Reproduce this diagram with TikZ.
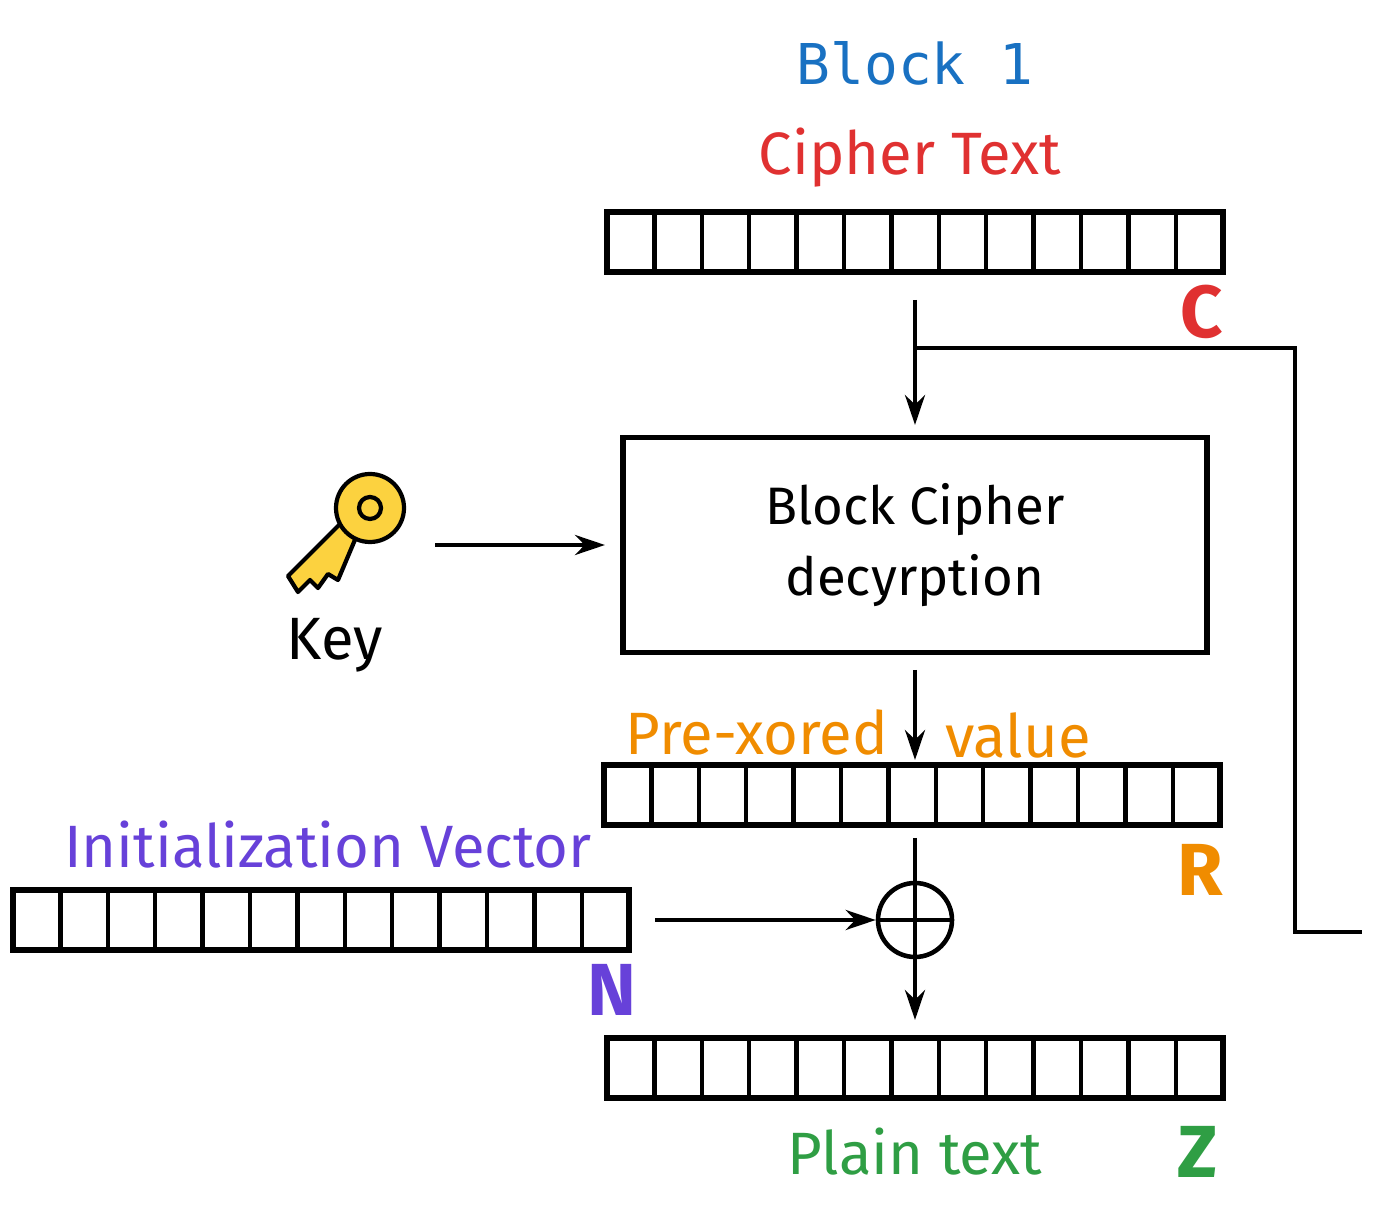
\documentclass[tikz,border=0pt]{standalone}
\usepackage{fontspec}
\setmainfont{Fira Sans}
\newfontfamily\monofont{DejaVu Sans Mono}
\usetikzlibrary{arrows.meta}
\definecolor{cblue}{HTML}{1971C2}
\definecolor{cred}{HTML}{E03131}
\definecolor{corange}{HTML}{F08C00}
\definecolor{cpurple}{HTML}{6741D9}
\definecolor{cgreen}{HTML}{2F9E44}
\definecolor{ckey}{HTML}{FCD23F}
\newcommand{\cellbar}[3]{% name, left x, top y
  \node[bar] (#1) at (#2+308,#3+30) {};
  \foreach \i in {1,...,12} \draw[-,line width=2.6pt] (#2+\i*47.4,#3) -- (#2+\i*47.4,#3+60);
}
\begin{document}
\begin{tikzpicture}[x=0.2mm,y=-0.2mm,->,>={Stealth[length=6mm,width=4mm]},line width=2.6pt,
  bar/.style={draw,line width=3pt,minimum width=123.2mm,minimum height=12mm,inner sep=0pt,outer sep=0pt},
  lbl/.style={font=\fontsize{34}{38}\selectfont},
  big/.style={font=\fontsize{42}{44}\selectfont\bfseries}]
  \useasboundingbox (0,0) rectangle (1400,1216);

  \node[lbl,text=cblue,font=\monofont\fontsize{32}{36}\selectfont] (block) at (915,63) {Block 1};
  \node[lbl,text=cred] (ctext) at (910,158) {Cipher Text};
  \cellbar{cbar}{607}{212}
  \node[big,text=cred] (c) at (1202,312) {C};

  \node[draw,line width=3pt,minimum width=116.8mm,minimum height=43mm,align=center,
    font=\fontsize{30}{40}\selectfont] (cipher) at (915,545) {Block Cipher\\decyrption};
  \coordinate (ctop) at (915,300);
  \coordinate (split) at (915,348);
  \coordinate (cin) at (915,425);
  \coordinate (corner) at (1295,348);
  \coordinate (lowcorner) at (1295,932);
  \coordinate (cend) at (1362,932);
  \draw (ctop) -- (cin);
  \draw[-] (split) -- (corner) -- (lowcorner) -- (cend);

  % key
  \draw[-,fill=ckey,line width=2.4pt,line join=round] (343,521) -- (288,576) -- (298,592) -- (310,580)
    -- (318,588) -- (328,574) -- (338,580) -- (357,535) -- cycle;
  \draw[-,fill=ckey,line width=2.4pt] (370,508) circle (34);
  \draw[-,line width=2.4pt] (370,508) circle (11);
  \node[lbl,text=black] (key) at (335,645) {Key};
  \coordinate (keyend) at (435,545);
  \coordinate (keyin) at (605,545);
  \draw (keyend) -- (keyin);

  \node[lbl,text=corange] (prex) at (757,732) {Pre-xored};
  \node[lbl,text=corange] (val) at (1018,735) {value};
  \cellbar{rbar}{604}{765}
  \coordinate (cout) at (915,670);
  \coordinate (rin) at (915,760);
  \draw (cout) -- (rin);
  \node[big,text=corange] (r) at (1200,870) {R};

  \node[lbl,text=cpurple] (ivtext) at (328,845) {Initialization Vector};
  \cellbar{ivbar}{13}{890}
  \node[big,text=cpurple] (n) at (612,990) {N};

  \node[circle,draw,line width=2.6pt,minimum size=14.8mm,inner sep=0pt] (xor) at (915,920) {};
  \draw[-] (xor.north) -- (xor.south);
  \draw[-] (xor.west) -- (xor.east);
  \coordinate (rout) at (915,838);
  \coordinate (ivout) at (655,920);
  \draw[-] (rout) -- (xor.north);
  \draw (ivout) -- (xor.west);

  \cellbar{pbar}{607}{1038}
  \coordinate (pin) at (915,1020);
  \draw (xor.south) -- (pin);
  \node[lbl,text=cgreen] (ptext) at (915,1152) {Plain text};
  \node[big,text=cgreen] (z) at (1198,1152) {Z};
\end{tikzpicture}
\end{document}
